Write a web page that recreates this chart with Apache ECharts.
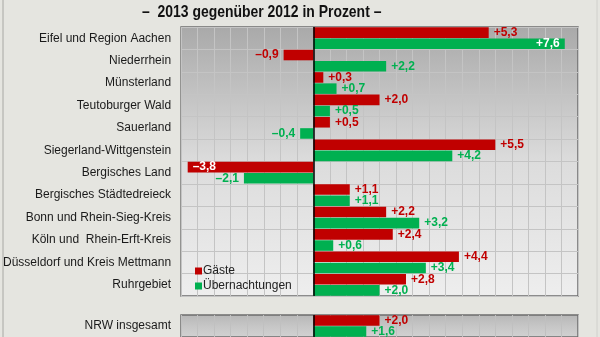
<!DOCTYPE html>
<html><head><meta charset="utf-8">
<script src="https://cdn.jsdelivr.net/npm/echarts@6/dist/echarts.min.js"></script>
<style>html,body{margin:0;padding:0;background:#e5e5e0;}#c{width:600px;height:337px;}</style>
</head><body><div id="c"></div>
<script>
const categories = ["Eifel und Region Aachen","Niederrhein","Münsterland","Teutoburger Wald","Sauerland","Siegerland-Wittgenstein","Bergisches Land","Bergisches Städtedreieck","Bonn und Rhein-Sieg-Kreis","Köln und  Rhein-Erft-Kreis","Düsseldorf und Kreis Mettmann","Ruhrgebiet"];
const gaeste = [5.3,-0.9,0.3,2.0,0.5,5.5,-3.8,1.1,2.2,2.4,4.4,2.8];
const uebernachtungen = [7.6,2.2,0.7,0.5,-0.4,4.2,-2.1,1.1,3.2,0.6,3.4,2.0];
const totalCategory = ["NRW insgesamt"];
const totalGaeste = [2.0];
const totalUebernachtungen = [1.6];
const titleText = "–  2013 gegenüber 2012 in Prozent –";
const seriesNames = ["Gäste","Übernachtungen"];

const RED = "#c00000", GREEN = "#00b050";
const FONT = "Liberation Sans, Arial, sans-serif";
function fmt(v){ return (v >= 0 ? "+" : "–") + Math.abs(v).toFixed(1).replace(".", ","); }
function items(arr, color, insideIdx){
  return arr.map((v,i)=>{
    const inside = insideIdx.indexOf(i) >= 0;
    return { value: v, label: {
      show: true,
      position: inside ? (v >= 0 ? "insideRight" : "insideLeft") : (v >= 0 ? "right" : "left"),
      color: inside ? "#ffffff" : color,
      distance: 5
    }};
  });
}
function bg(top, mid, bot){
  return {type:"linear",x:0,y:0,x2:0,y2:1,colorStops:[{offset:0,color:top},{offset:0.5,color:mid},{offset:1,color:bot}]};
}
const labelBase = { fontFamily: FONT, fontSize: 12, fontWeight: "bold", formatter: p => fmt(p.value) };
const zeroLine = { silent: true, symbol: "none", label:{show:false}, lineStyle:{color:"#000", width:1.5, type:"solid"}, data:[{xAxis:0}] };

const chart = echarts.init(document.getElementById("c"), null, {renderer:"canvas"});
chart.setOption({
  backgroundColor: "#e5e5e0",
  animation: false,
  legend: { data: seriesNames, orient: "vertical", left: 190, top: 260, itemWidth: 7, itemHeight: 7, itemGap: 3, icon: "rect",
    textStyle: { fontFamily: FONT, fontSize: 12, color: "#222", padding:[0,0,0,-4] } },
  grid: [
    { left: 181, top: 27, width: 397, height: 269, show: true, borderColor: "#6c6c6c", borderWidth: 1.5,
      backgroundColor: bg("#a9a9a9", "#dcdcdc", "#eeeeee") },
    { left: 181, top: 315, width: 397, height: 23, show: true, borderColor: "#6c6c6c", borderWidth: 1.5,
      backgroundColor: bg("#b6b6b6", "#c6c6c6", "#d2d2d2") }
  ],
  xAxis: [
    { gridIndex: 0, type: "value", min: -4, max: 8, interval: 0.5, axisLabel:{show:false}, axisTick:{show:false}, axisLine:{show:false},
      splitLine:{ show:true, lineStyle:{ color:"#c4c4c4", width:1 } } },
    { gridIndex: 1, type: "value", min: -4, max: 8, interval: 0.5, axisLabel:{show:false}, axisTick:{show:false}, axisLine:{show:false},
      splitLine:{ show:true, lineStyle:{ color:"#c0c0c0", width:1 } } }
  ],
  yAxis: [
    { gridIndex: 0, type: "category", data: categories, inverse: true, axisLine:{show:false, onZero:false}, axisTick:{show:false},
      axisLabel:{ fontFamily: FONT, fontSize: 12, color: "#1a1a1a", margin: 10 },
      splitLine:{ show:true, lineStyle:{ color:"#c4c4c4", width:1 } } },
    { gridIndex: 1, type: "category", data: totalCategory, inverse: true, axisLine:{show:false, onZero:false}, axisTick:{show:false},
      axisLabel:{ fontFamily: FONT, fontSize: 12, color: "#1a1a1a", margin: 10 } }
  ],
  series: [
    { name: seriesNames[0], type: "bar", xAxisIndex: 0, yAxisIndex: 0, data: items(gaeste, RED, [6]), itemStyle:{color:RED},
      barCategoryGap: "3%", barGap: "6%", label: labelBase, markLine: zeroLine },
    { name: seriesNames[1], type: "bar", xAxisIndex: 0, yAxisIndex: 0, data: items(uebernachtungen, GREEN, [0]), itemStyle:{color:GREEN},
      barCategoryGap: "3%", barGap: "6%", label: labelBase },
    { name: seriesNames[0], type: "bar", xAxisIndex: 1, yAxisIndex: 1, data: items(totalGaeste, RED, []), itemStyle:{color:RED},
      barCategoryGap: "3%", barGap: "6%", label: labelBase, markLine: zeroLine },
    { name: seriesNames[1], type: "bar", xAxisIndex: 1, yAxisIndex: 1, data: items(totalUebernachtungen, GREEN, []), itemStyle:{color:GREEN},
      barCategoryGap: "3%", barGap: "6%", label: labelBase }
  ],
  graphic: [
    { type: "text", x: 142, y: 4, scaleX: 0.82, silent: true,
      style: { text: titleText, fontFamily: "Liberation Sans, Arial", fontSize: 17, fontWeight: "bold", fill: "#111" } },
    { type: "line", shape: { x1: 3, y1: 0, x2: 3, y2: 337 }, style: { stroke: "#a8a8a4", lineWidth: 1 }, silent: true },
    { type: "line", shape: { x1: 597, y1: 0, x2: 597, y2: 337 }, style: { stroke: "#d0d0cc", lineWidth: 1 }, silent: true }
  ]
});
</script></body></html>
